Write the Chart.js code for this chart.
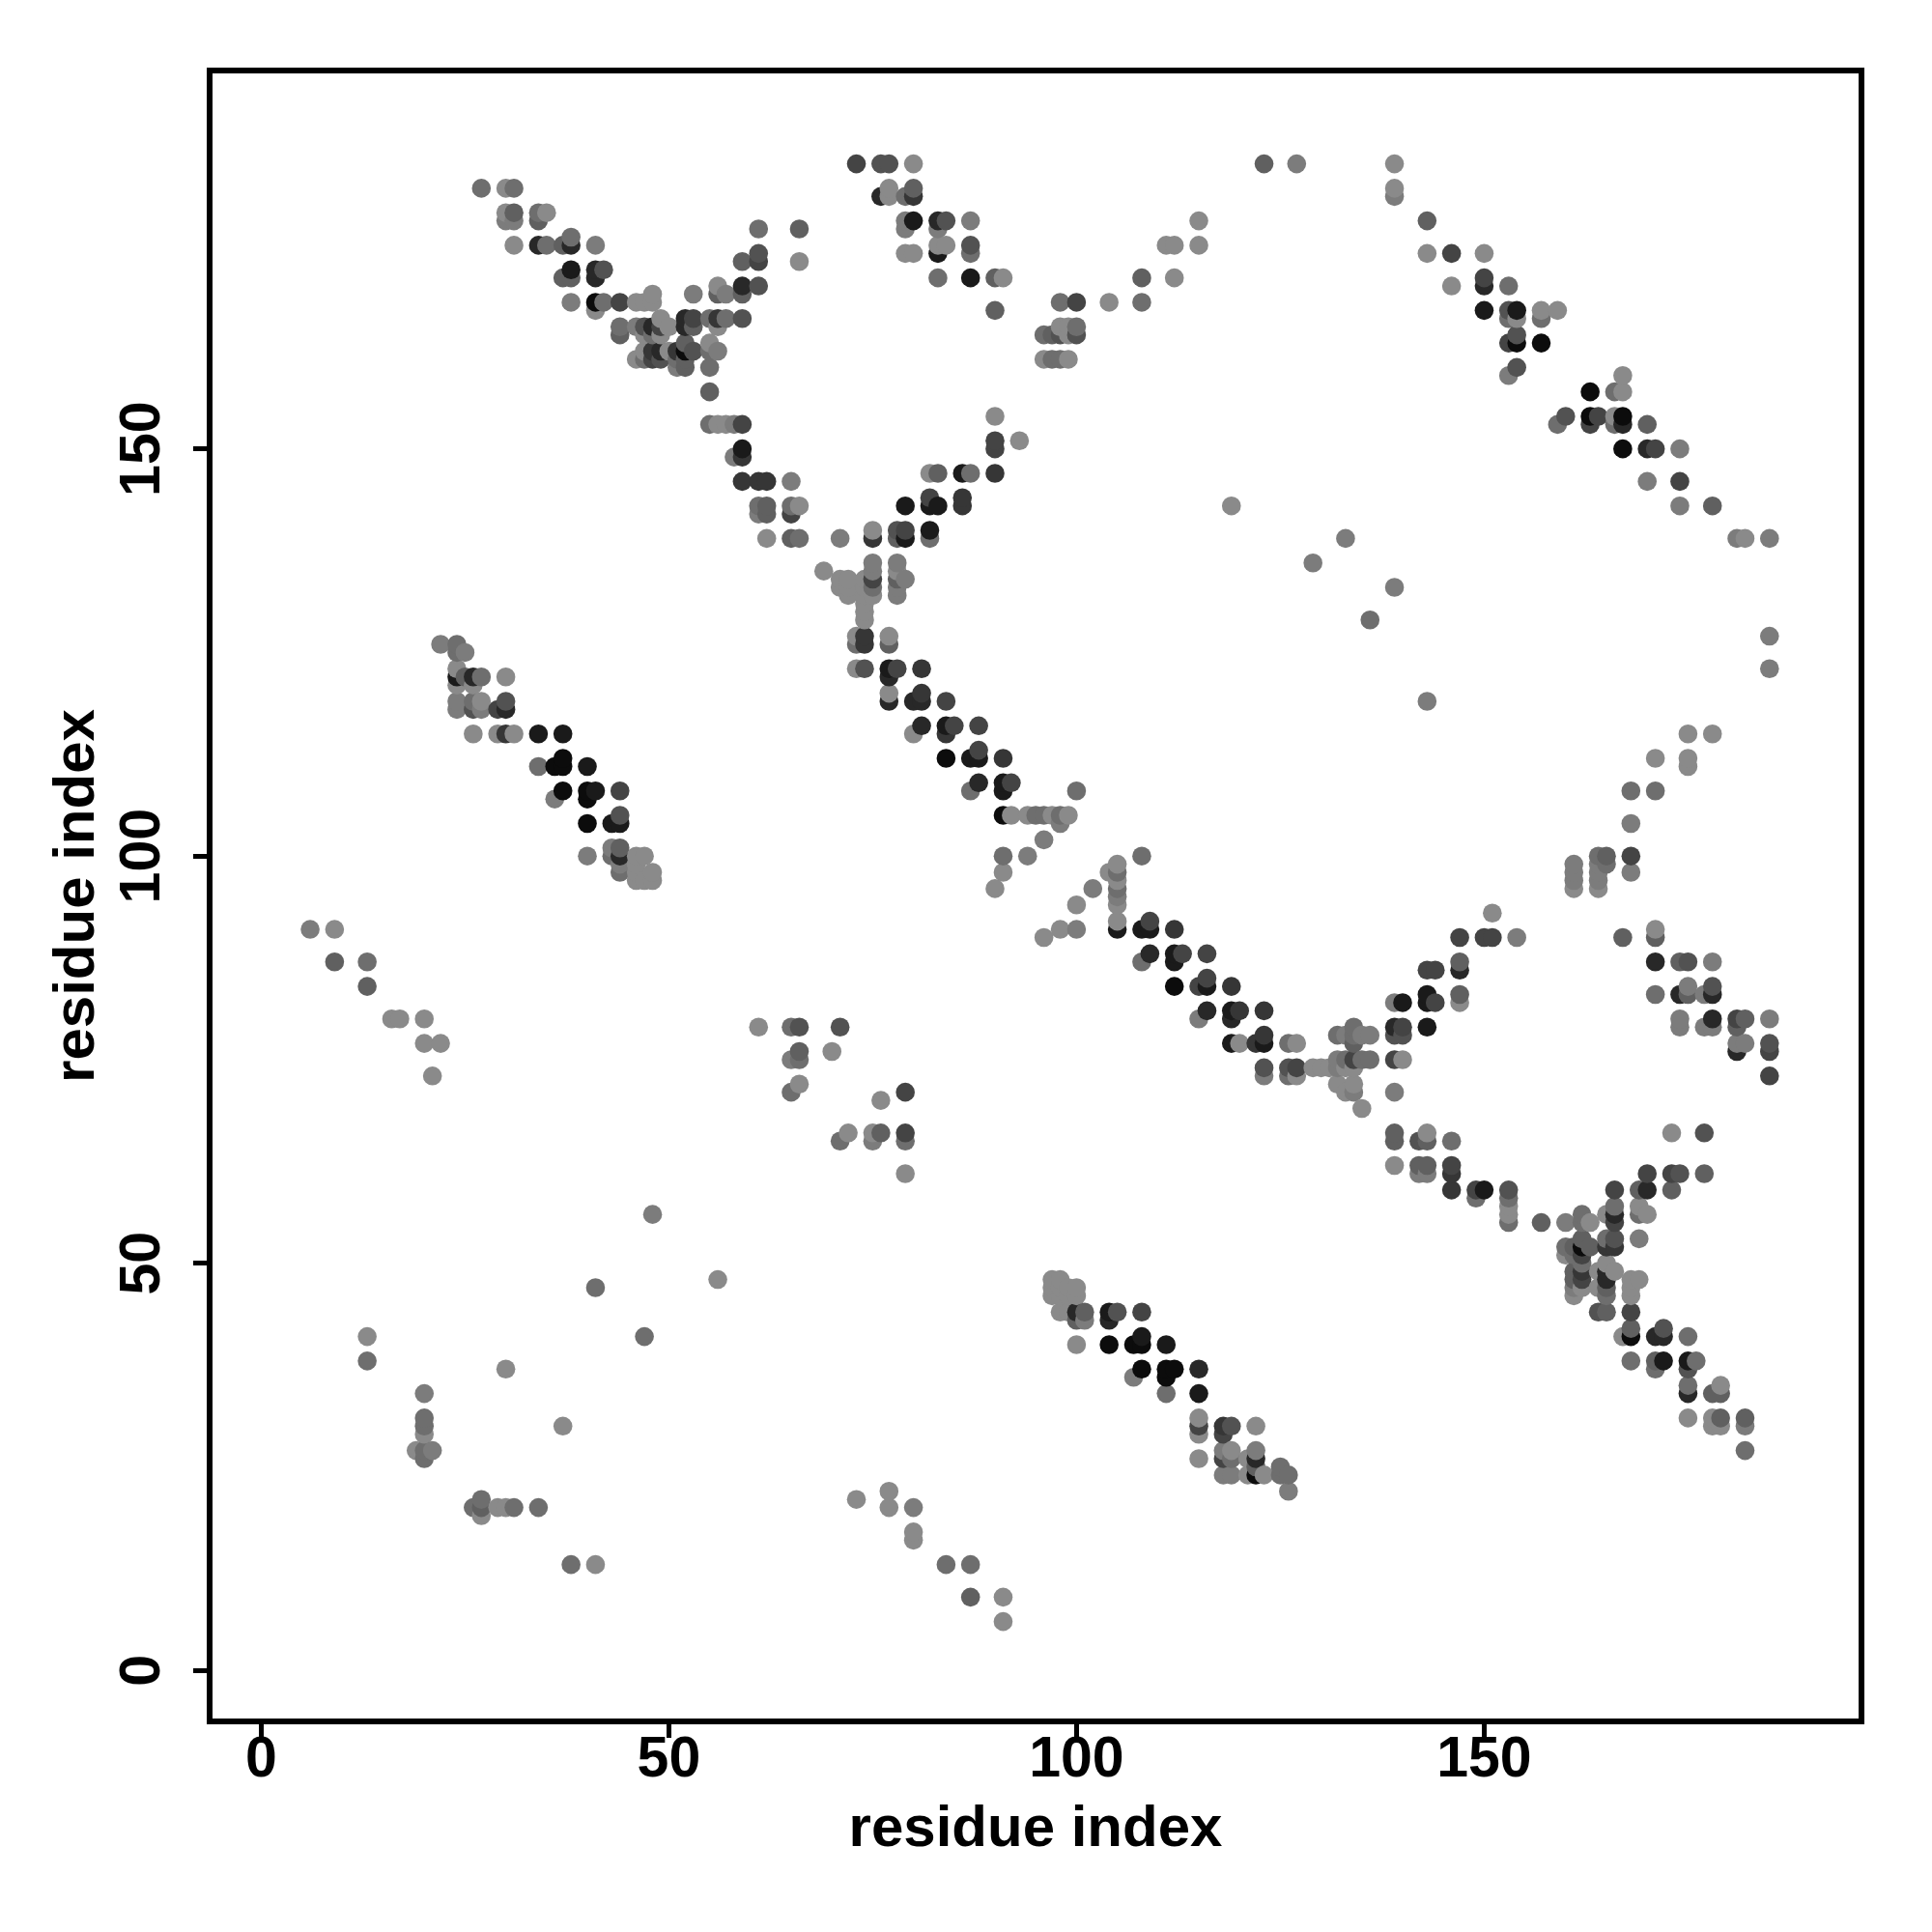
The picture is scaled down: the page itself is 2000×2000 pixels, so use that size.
<!DOCTYPE html>
<html>
<head>
<meta charset="utf-8">
<title>residue contact map</title>
<script src="https://cdn.jsdelivr.net/npm/chart.js@4/dist/chart.umd.min.js"></script>
<style>
    html, body { margin: 0; padding: 0; background: #FFFFFF; }
    canvas { display: block; }
</style>
</head>
<body>
<canvas id="contactChart" width="2000" height="2000"></canvas>
<script>
// Values, one line per patch of the map
const residueX = [
    27,30,31,30,31,30,31,34,35,34,31,34,35,37,38,38,41,
    38,37,38,41,42,41,38,41,41,42,44,46,47,48,48,
    53,56,56,57,59,59,61,59,61,61,61,66,66,
    49,52,53,55,56,57,59,44,46,47,48,49,50,52,53,56,44,47,48,49,
    52,55,47,48,49,50,51,52,53,55,56,46,47,48,49,51,52,51,52,55,55,
    55,56,57,58,59,59,59,58,59,61,62,65,61,62,65,66,61,62,65,62,65,66,71,
    75,78,79,82,75,78,79,82,79,82,83,82,86,86,82,83,86,87,90,90,90,93,90,
    69,71,72,74,71,72,74,72,74,74,74,74,
    75,75,75,75,75,78,78,78,78,78,79,
    73,74,77,73,74,77,
    73,74,77,78,81,77,77,81,77,80,81,84,
    81,84,85,88,80,84,84,87,88,91,88,88,91,92,87,91,
    91,92,94,95,96,97,98,99,100,98,96,94,91,91,90,
    100,102,104,105,105,105,105,105,105,108,
    98,100,105,105,96,108,109,109,112,
    109,112,113,116,108,112,112,115,116,116,119,
    116,119,120,123,115,119,119,120,122,123,123,126,127,
    123,126,127,129,130,131,132,123,126,127,
    132,133,134,135,136,132,133,134,135,136,134,134,
    133,134,132,134,133,134,135,
    139,140,139,139,140,139,140,143,
    139,140,143,143,144,147,147,143,144,147,147,
    147,150,151,154,151,167,171,171,171,174,175,178,
    171,174,175,175,177,178,178,
    174,178,181,182,185,174,177,178,181,181,182,185,181,185,185,
    173,177,139,143,139,142,143,146,
    139,142,143,146,142,143,146,146,149,150,149,
    153,153,153,153,153,157,160,162,162,163,
    166,166,166,166,166,166,165,165,165,
    169,169,169,170,170,169,170,173,174,177,173,
    160,160,161,161,162,162,162,163,162,162,162,162,161,161,161,161,
    164,165,165,165,165,165,164,166,164,165,
    168,168,168,168,168,168,167,169,171,172,172,175,
    168,171,172,175,176,171,175,175,175,178,179,179,
    175,178,179,182,178,179,182,182,
    97,98,97,98,97,98,99,100,99,100,98,99,100,101,100,101,
    104,105,104,108,100,104,107,108,111,108,
    108,111,112,115,107,111,111,115,115,115,115,115,
    118,119,122,118,118,119,118,119,122,122,122,122,121,121,
    118,119,123,125,126,125,126,
    22,24,24,25,24,24,24,25,26,27,26,30,
    24,24,26,26,27,27,29,30,30,26,29,30,31,34,37,
    37,34,36,37,40,37,40,41,44,36,40,40,43,44,44,
    40,43,43,44,44,44,44,46,47,46,46,46,47,48,48,
    73,76,77,80,77,80,76,77,79,80,79,80,83,84,87,
    79,83,83,84,83,87,87,79,80,83,87,90,91,90,
    98,100,104,108,108,112,111,112,115,115,
    98,99,100,96,97,98,99,100,96,97,98,99,
    139,139,139,143,143,146,150,150,150,146,153,
    150,153,154,157,159,153,154,157,153,154,157,154,154,153,167,
    163,166,167,160,163,164,166,167,159,163,166,167,170,
    167,170,171,174,170,174,174,178,181,182,185,
    123,127,119,133,129,136,139,185,185,143,
    178,175,175,175,171,171,168,168,168,168,
    164,165,164,165,164,164,164,161,161,161,161,
    6,9,9,13,13,16,17,20,20,22,21,
    61,65,66,71,66,70,65,66,66,65,76,79,
    72,71,75,76,75,79,79,79,
    41,56,13,13,47,30,20,37,20,20,20,19,20,21,20,
    26,27,27,27,29,30,31,34,38,41,48,
    73,77,77,80,80,80,84,87,87,91,91
];
const residueY = [
    182,182,182,179,179,178,178,179,179,178,175,175,175,175,175,176,175,
    172,171,171,172,172,171,168,168,167,168,168,168,168,168,169,
    169,170,169,169,169,170,170,173,174,173,177,177,173,
    166,166,166,166,166,166,166,165,165,165,165,165,165,165,165,165,164,164,164,164,
    163,163,162,162,162,162,162,162,162,162,162,161,161,161,161,161,161,160,160,160,157,
    153,153,153,153,153,150,149,149,146,146,146,146,143,143,143,143,142,142,142,139,139,139,139,
    139,139,139,139,140,140,140,140,143,143,143,144,144,143,147,147,147,147,147,151,150,151,154,
    135,134,134,134,133,133,133,132,132,131,130,129,
    136,135,134,133,132,136,135,134,133,132,134,
    127,127,127,126,126,126,
    123,123,123,123,123,122,120,120,119,119,119,119,
    116,116,116,116,115,115,112,112,112,112,113,109,109,109,108,108,
    105,105,105,105,105,105,105,105,108,104,102,100,100,98,96,
    94,96,98,99,98,97,96,95,94,100,
    91,91,92,91,90,91,91,92,91,
    88,88,88,88,87,87,84,84,84,85,84,
    81,81,81,81,80,80,77,77,77,77,78,77,77,
    74,74,74,74,74,74,74,73,73,73,
    75,75,75,75,75,78,78,78,78,78,79,77,
    74,74,72,72,71,71,69,
    75,75,71,79,79,78,78,79,
    82,82,83,82,82,83,82,86,86,87,86,
    90,90,90,90,93,90,91,90,87,87,87,87,
    83,83,83,84,83,84,83,
    80,80,80,80,80,79,79,79,79,77,77,77,76,76,73,
    66,66,66,66,65,65,65,65,
    62,62,62,62,61,61,61,59,59,59,58,
    59,58,57,56,55,55,55,56,55,55,
    59,57,56,55,53,52,56,53,52,
    59,57,56,59,56,53,61,61,61,61,59,
    52,51,52,51,53,52,51,52,50,49,48,47,49,48,47,46,
    49,50,49,48,47,46,47,49,44,44,
    48,47,46,44,42,41,41,48,41,41,42,41,
    38,38,38,38,38,37,37,35,34,34,34,35,
    31,31,31,31,30,30,30,27,
    48,48,47,47,46,46,47,47,46,46,44,44,44,44,43,43,
    44,44,43,44,40,40,40,40,40,41,
    37,37,37,37,36,36,34,34,31,30,29,26,
    30,30,30,29,27,27,26,26,27,26,25,24,26,24,
    24,24,24,24,24,25,22,
    126,126,125,125,123,122,121,122,122,122,121,122,
    119,118,119,118,119,118,118,118,119,115,115,115,115,115,115,
    112,111,111,111,111,108,108,108,108,107,107,104,104,104,105,
    100,101,100,101,100,99,98,100,100,99,98,97,97,98,97,
    185,185,185,185,182,182,181,181,181,181,178,178,178,178,178,
    177,177,175,175,174,175,174,174,174,171,171,171,171,167,
    168,168,168,168,171,171,175,175,175,178,
    165,165,165,164,164,164,164,164,161,161,161,161,
    185,182,181,178,174,174,174,171,170,170,170,
    167,167,167,167,167,166,166,166,163,163,163,164,160,159,159,
    157,157,157,154,154,154,154,154,153,153,153,153,153,
    150,150,150,150,146,146,143,143,139,139,139,
    185,185,143,139,136,129,133,127,123,119,
    115,115,112,111,112,108,108,104,100,98,
    100,100,99,99,98,97,96,99,98,97,96,
    91,91,87,87,84,80,80,80,77,77,73,
    79,79,79,79,76,76,75,75,72,71,70,71,
    66,65,66,66,65,66,65,61,
    47,48,41,38,41,37,34,30,31,30,29,27,27,27,26,
    20,21,20,19,20,20,20,20,13,13,56,
    21,22,20,20,17,16,13,13,9,9,6
];
// 0 = faintest contact, 9 = strongest
const contactLevel = [
    2,0,2,0,3,1,1,2,0,3,0,7,2,3,7,2,1,
    8,3,3,7,4,7,1,9,0,2,5,0,0,0,0,
    1,0,3,1,3,7,4,3,4,5,2,3,0,
    0,7,5,2,6,2,4,2,1,4,7,5,0,7,3,0,3,0,2,0,
    3,0,0,6,7,0,6,9,4,2,1,0,2,5,4,2,3,1,3,2,3,
    2,0,0,1,5,8,6,1,6,6,6,1,2,3,2,0,1,3,5,0,3,2,1,
    6,3,8,2,0,4,5,8,8,8,8,5,6,6,0,3,8,2,6,5,5,0,0,
    0,0,0,0,0,0,0,0,0,0,0,0,
    1,1,5,2,0,1,0,3,1,1,1,
    0,6,0,2,6,3,
    0,4,8,5,6,7,0,6,7,7,7,5,
    7,8,5,5,0,6,9,8,8,6,5,7,8,5,2,8,
    9,0,0,2,2,0,2,0,2,1,1,1,2,0,0,
    0,1,0,0,2,0,2,1,0,2,
    0,1,0,8,0,8,8,5,6,
    7,8,5,5,2,8,9,5,8,5,6,
    7,8,6,6,1,7,8,0,6,8,6,2,0,
    4,4,5,0,0,0,1,1,2,0,
    1,2,5,2,2,2,1,2,1,1,2,3,
    0,0,0,0,0,1,0,
    5,0,1,7,5,4,4,8,
    1,8,8,8,5,3,0,5,5,3,7,
    5,5,5,1,0,3,0,3,7,3,4,1,
    2,7,3,1,1,4,7,
    1,7,5,3,1,1,1,1,3,1,1,4,7,5,5,
    0,4,3,0,3,4,3,2,
    0,3,3,5,1,1,6,6,5,8,2,
    4,2,0,0,2,3,1,2,2,0,
    5,2,7,5,4,6,0,2,6,
    3,0,2,7,0,1,5,5,4,3,3,
    2,0,3,2,3,9,5,3,2,6,5,0,3,3,1,0,
    0,0,7,7,3,2,0,0,4,3,
    0,0,0,5,3,9,0,0,7,7,4,2,
    2,3,8,8,2,2,4,2,7,3,3,0,
    0,0,3,3,0,0,1,2,
    0,0,0,0,0,0,0,0,0,0,0,0,7,3,3,1,
    8,4,7,5,0,9,9,9,8,8,
    9,9,9,7,1,9,2,8,0,5,0,0,
    6,4,0,5,1,0,5,2,1,7,3,9,0,0,
    1,1,0,2,2,2,1,
    1,2,2,1,0,8,0,3,7,2,0,0,
    1,1,2,4,0,1,5,7,4,0,0,6,0,8,8,
    9,2,9,9,8,9,9,8,5,1,9,9,8,8,4,
    1,1,2,3,7,1,2,0,0,0,0,0,0,0,0,
    5,4,4,0,0,3,7,0,2,6,1,8,7,4,1,
    1,1,0,0,8,4,2,0,0,2,8,3,0,3,
    2,5,0,2,3,0,0,0,0,0,
    0,0,2,2,3,4,0,4,0,2,2,0,
    0,0,1,3,0,5,0,5,7,0,2,
    8,4,8,0,0,2,0,2,5,9,9,4,4,1,0,
    9,2,0,4,9,5,0,9,2,5,2,7,3,
    9,7,5,1,1,5,1,3,1,0,1,
    3,1,0,1,1,2,1,1,1,1,
    0,0,0,0,0,2,2,1,5,1,
    2,3,1,2,1,1,0,1,1,1,0,
    1,0,3,2,3,0,0,0,0,0,0,
    0,2,4,4,3,0,1,2,0,2,0,5,
    0,2,0,3,1,5,2,0,
    2,0,0,2,2,0,1,0,2,2,0,0,2,1,2,
    2,2,3,0,0,0,2,2,2,0,1,
    0,0,0,1,0,0,2,2,3,0,0
];
const tickValues = [0, 50, 100, 150];
const axisTitle = 'residue index';

class ContactMap {
    constructor() {
        this.colors = { ink: '#000000', background: '#FFFFFF' };
        this.chart = null;
    }

    // Later residues are painted over earlier ones, as in the original plot
    buildPoints() {
        const points = residueX.map((x, i) => ({ x: x, y: residueY[i], level: contactLevel[i] }));
        return points.sort((a, b) => (a.x - b.x) || (a.y - b.y));
    }

    levelColor(level) {
        const grey = 138 - 14 * level;
        return `rgb(${grey}, ${grey}, ${grey})`;
    }

    axisOptions(size, titlePadding) {
        return {
            type: 'linear',
            min: size.min,
            max: size.max,
            afterBuildTicks: (scale) => {
                scale.ticks = tickValues.map(v => ({ value: v }));
            },
            afterFit: (scale) => {
                if (scale.isHorizontal()) {
                    scale.height = size.band;
                } else {
                    scale.width = size.band;
                }
            },
            border: { display: false },
            grid: {
                drawOnChartArea: false,
                tickLength: 17,
                tickWidth: 5,
                tickColor: this.colors.ink
            },
            title: {
                display: true,
                text: axisTitle,
                color: this.colors.ink,
                font: { family: 'Liberation Sans', size: 60, weight: 'bold' },
                padding: titlePadding
            }
        };
    }

    create() {
        const ctx = document.getElementById('contactChart').getContext('2d');
        const frame = {
            id: 'plotFrame',
            afterDraw: (chart) => {
                const a = chart.chartArea;
                chart.ctx.save();
                chart.ctx.strokeStyle = this.colors.ink;
                chart.ctx.lineWidth = 6;
                chart.ctx.strokeRect(a.left, a.top, a.right - a.left, a.bottom - a.top);
                chart.ctx.restore();
            }
        };
        const tickFont = { family: 'Liberation Sans', size: 59, weight: 'bold' };

        const xAxis = this.axisOptions({ min: -6.33, max: 196.28, band: 218 }, { top: 0, bottom: 70 });
        xAxis.ticks = { color: this.colors.ink, font: tickFont, padding: -12, maxRotation: 0, autoSkip: false };

        const yAxis = this.axisOptions({ min: -6.26, max: 196.46, band: 217 }, { top: 44, bottom: 0 });
        yAxis.ticks = { color: this.colors.ink, font: tickFont, padding: 2, minRotation: 90, crossAlign: 'center', autoSkip: false };

        this.chart = new Chart(ctx, {
            type: 'scatter',
            data: {
                datasets: [{
                    data: this.buildPoints(),
                    pointRadius: 9.8,
                    pointBorderWidth: 0,
                    pointBackgroundColor: (c) => this.levelColor(c.raw.level)
                }]
            },
            options: {
                responsive: false,
                animation: false,
                layout: { padding: { left: 0, top: 73, right: 73, bottom: 0 } },
                plugins: {
                    legend: { display: false },
                    tooltip: { enabled: false }
                },
                scales: { x: xAxis, y: yAxis }
            },
            plugins: [frame]
        });
    }
}

document.addEventListener('DOMContentLoaded', () => {
    new ContactMap().create();
});
</script>
</body>
</html>
